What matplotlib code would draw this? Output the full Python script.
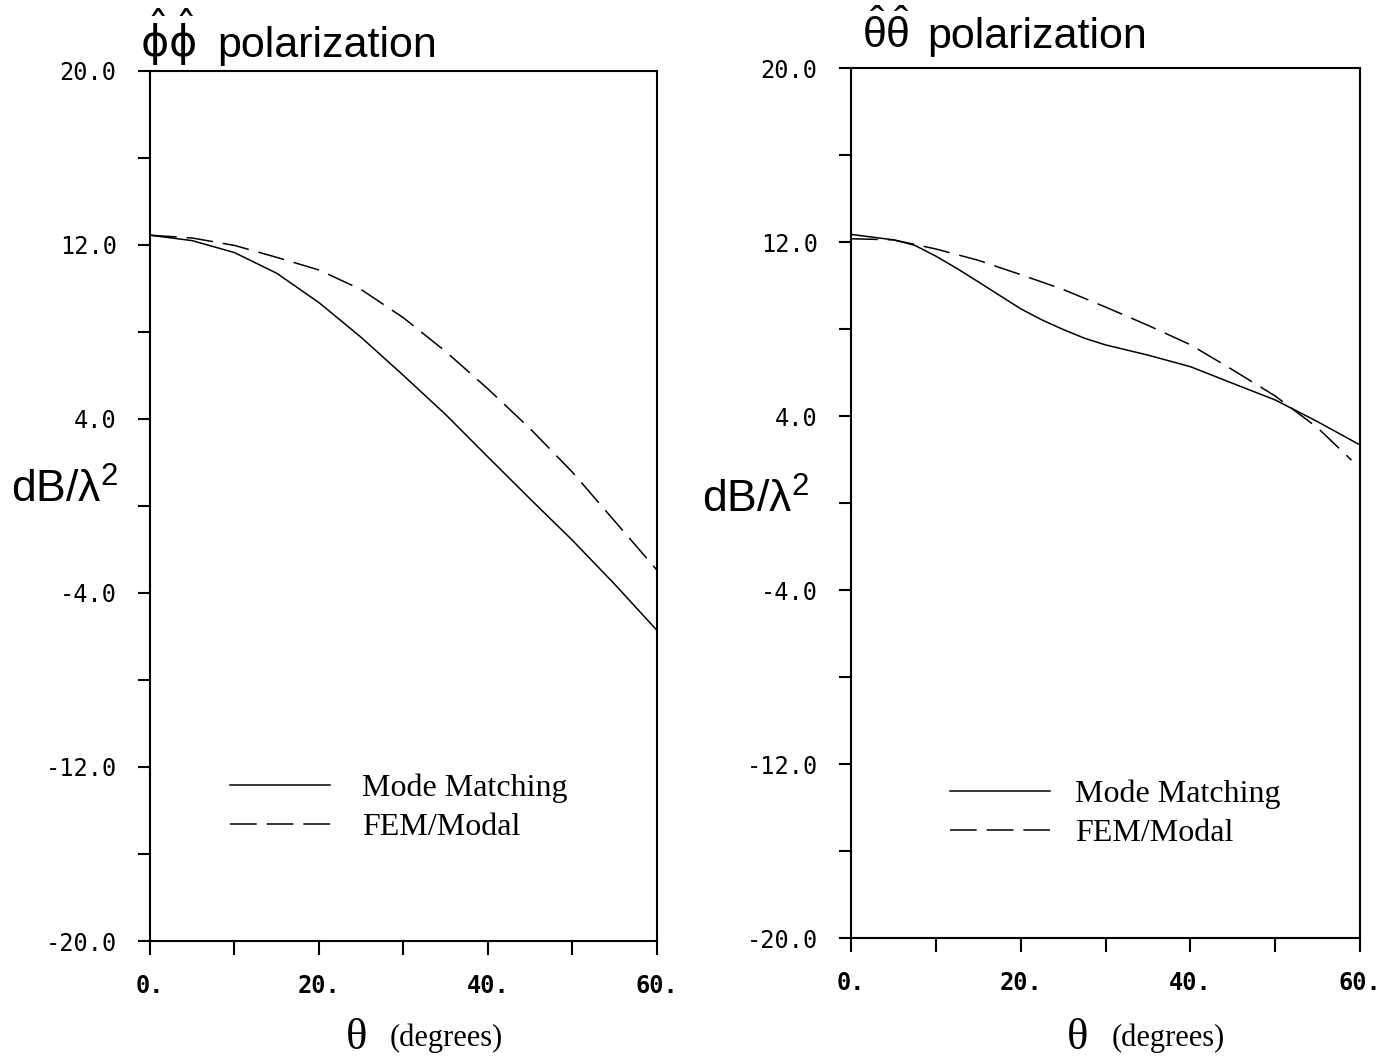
import matplotlib
matplotlib.use("Agg")
import matplotlib.pyplot as plt
from matplotlib.ticker import FixedLocator, MultipleLocator

plt.rcParams['mathtext.fontset'] = 'custom'
plt.rcParams['mathtext.rm'] = 'Liberation Sans'
plt.rcParams['mathtext.it'] = 'Liberation Sans'

# angles (degrees)
theta = [0, 5, 10, 15, 20, 25, 30, 35, 40, 45, 50, 55, 60]
theta_mode_r = [0, 5, 7.5, 10, 12.5, 15, 17.5, 20, 22.5, 25, 27.5, 30, 35, 40, 45, 50, 55, 60]
theta_fem_r = [0, 5, 10, 15, 20, 25, 30, 35, 40, 45, 50, 55, 59]

# phi-phi polarization (dB/lambda^2)
phi_mode = [12.45, 12.2, 11.65, 10.7, 9.35, 7.75, 6.0, 4.2, 2.25, 0.32, -1.58, -3.6, -5.72]
phi_fem = [12.45, 12.32, 11.98, 11.43, 10.85, 9.95, 8.65, 7.1, 5.38, 3.55, 1.55, -0.7, -2.95]

# theta-theta polarization
th_mode = [12.35, 12.1, 11.85, 11.35, 10.78, 10.17, 9.55, 8.93, 8.42, 7.98, 7.58, 7.27,
           6.8, 6.27, 5.5, 4.74, 3.74, 2.67]
th_fem = [12.15, 12.1, 11.68, 11.16, 10.5, 9.82, 9.01, 8.17, 7.28, 6.12, 4.92, 3.46, 1.97]

yticks = [20, 12, 4, -4, -12, -20]
ytick_labels = ["20.0", "12.0", "4.0", "-4.0", "-12.0", "-20.0"]
xticks = [0, 20, 40, 60]
xtick_labels = ["0.", "20.", "40.", "60."]
legend_labels = ["Mode Matching", "FEM/Modal"]

dash = (0, (17.5, 6.5))

fig = plt.figure(figsize=(13.94, 10.61), dpi=100)
ax1 = fig.add_axes([0.1076, 0.1131, 0.3637, 0.82])
ax2 = fig.add_axes([0.6105, 0.1159, 0.3651, 0.82])


def style_axes(ax):
    ax.set_xlim(0, 60)
    ax.set_ylim(-20, 20)
    ax.yaxis.set_major_locator(FixedLocator(yticks))
    ax.set_yticklabels(ytick_labels, family='DejaVu Sans Mono', fontsize=17)
    ax.yaxis.set_minor_locator(MultipleLocator(4))
    ax.xaxis.set_major_locator(FixedLocator(xticks))
    ax.set_xticklabels(xtick_labels, family='DejaVu Sans Mono', fontsize=17, fontweight='bold')
    ax.xaxis.set_minor_locator(MultipleLocator(10))
    ax.tick_params(which='both', direction='out', width=1.5, color='black')
    ax.tick_params(axis='y', which='both', length=9, pad=15)
    ax.tick_params(axis='x', which='both', length=10, pad=14)
    for s in ax.spines.values():
        s.set_linewidth(1.5)


style_axes(ax1)
style_axes(ax2)

ax1.plot(theta, phi_mode, color='black', lw=1.1, label=legend_labels[0])
ax1.plot(theta, phi_fem, color='black', lw=1.1, linestyle=dash, label=legend_labels[1])
ax2.plot(theta_mode_r, th_mode, color='black', lw=1.1, label=legend_labels[0])
ax2.plot(theta_fem_r, th_fem, color='black', lw=1.1, linestyle=dash, label=legend_labels[1])

for ax, anchor, tpad in [(ax1, (0.158, 0.153), 1.0), (ax2, (0.1945, 0.1425), 0.78)]:
    ax.legend(loc='center left', bbox_to_anchor=anchor, frameon=False,
              prop={'family': 'Liberation Serif', 'size': 23},
              handlelength=3.13, handletextpad=tpad, labelspacing=0.3,
              borderpad=0, borderaxespad=0)

# titles
fig.text(140 / 1394, 1 - 57 / 1061, r'$\hat{\mathrm{\phi}}\hat{\mathrm{\phi}}$',
         fontsize=31, va='baseline', ha='left', math_fontfamily='dejavusans')
fig.text(217 / 1394, 1 - 57 / 1061, 'polarization',
         fontsize=31, family='Liberation Sans', va='baseline', ha='left')
fig.text(862 / 1394, 1 - 48 / 1061, r'$\hat{θ}\hat{θ}$',
         fontsize=31, va='baseline', ha='left')
fig.text(927 / 1394, 1 - 48 / 1061, 'polarization',
         fontsize=31, family='Liberation Sans', va='baseline', ha='left')

# y labels
fig.text(65 / 1394, 1 - 490 / 1061, 'dB/λ$^{2}$', fontsize=32,
         family='Liberation Sans', ha='center', va='center')
fig.text(756 / 1394, 1 - 500 / 1061, 'dB/λ$^{2}$', fontsize=32,
         family='Liberation Sans', ha='center', va='center')

# x labels
for cx, dx, cy in [(357, 390, 1038), (1078, 1112, 1038)]:
    fig.text(cx / 1394, 1 - cy / 1061, 'θ', fontsize=32,
             family='Liberation Serif', ha='center', va='center')
    fig.text(dx / 1394, 1 - cy / 1061, '(degrees)', fontsize=22,
             family='Liberation Serif', ha='left', va='center')

fig.savefig('out.png', dpi=100, facecolor='white')
